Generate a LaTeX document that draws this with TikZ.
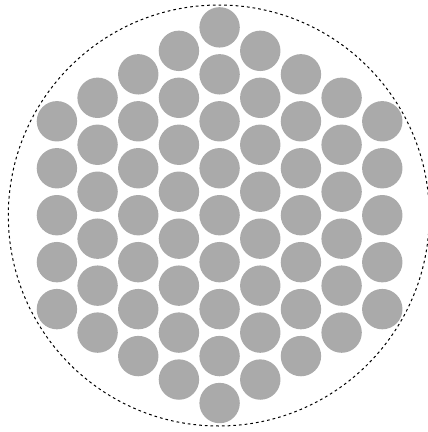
\documentclass[tikz,border=0pt]{standalone}
\definecolor{diskgray}{HTML}{AAAAAA}
\tikzset{
  disk/.style={fill=diskgray},
  outline/.style={draw=black, line width=1pt, dash pattern=on 2.7pt off 3pt}
}
\begin{document}
\begin{tikzpicture}[x=1pt,y=-1pt]
\useasboundingbox (0,0) rectangle (428,432);
\clip (0,0) rectangle (428,432);
\draw[outline] (218.8,215.5) circle (210.5);
\foreach \i in {-4,...,4} {
  \pgfmathtruncatemacro\ncount{9-abs(\i)}
  \foreach \j in {1,...,\ncount} {
    \fill[disk] ({219.6+\i*40.67},{215.2+(\j-(\ncount+1)/2)*46.96}) circle (20.2);
  }
}
\end{tikzpicture}
\end{document}
